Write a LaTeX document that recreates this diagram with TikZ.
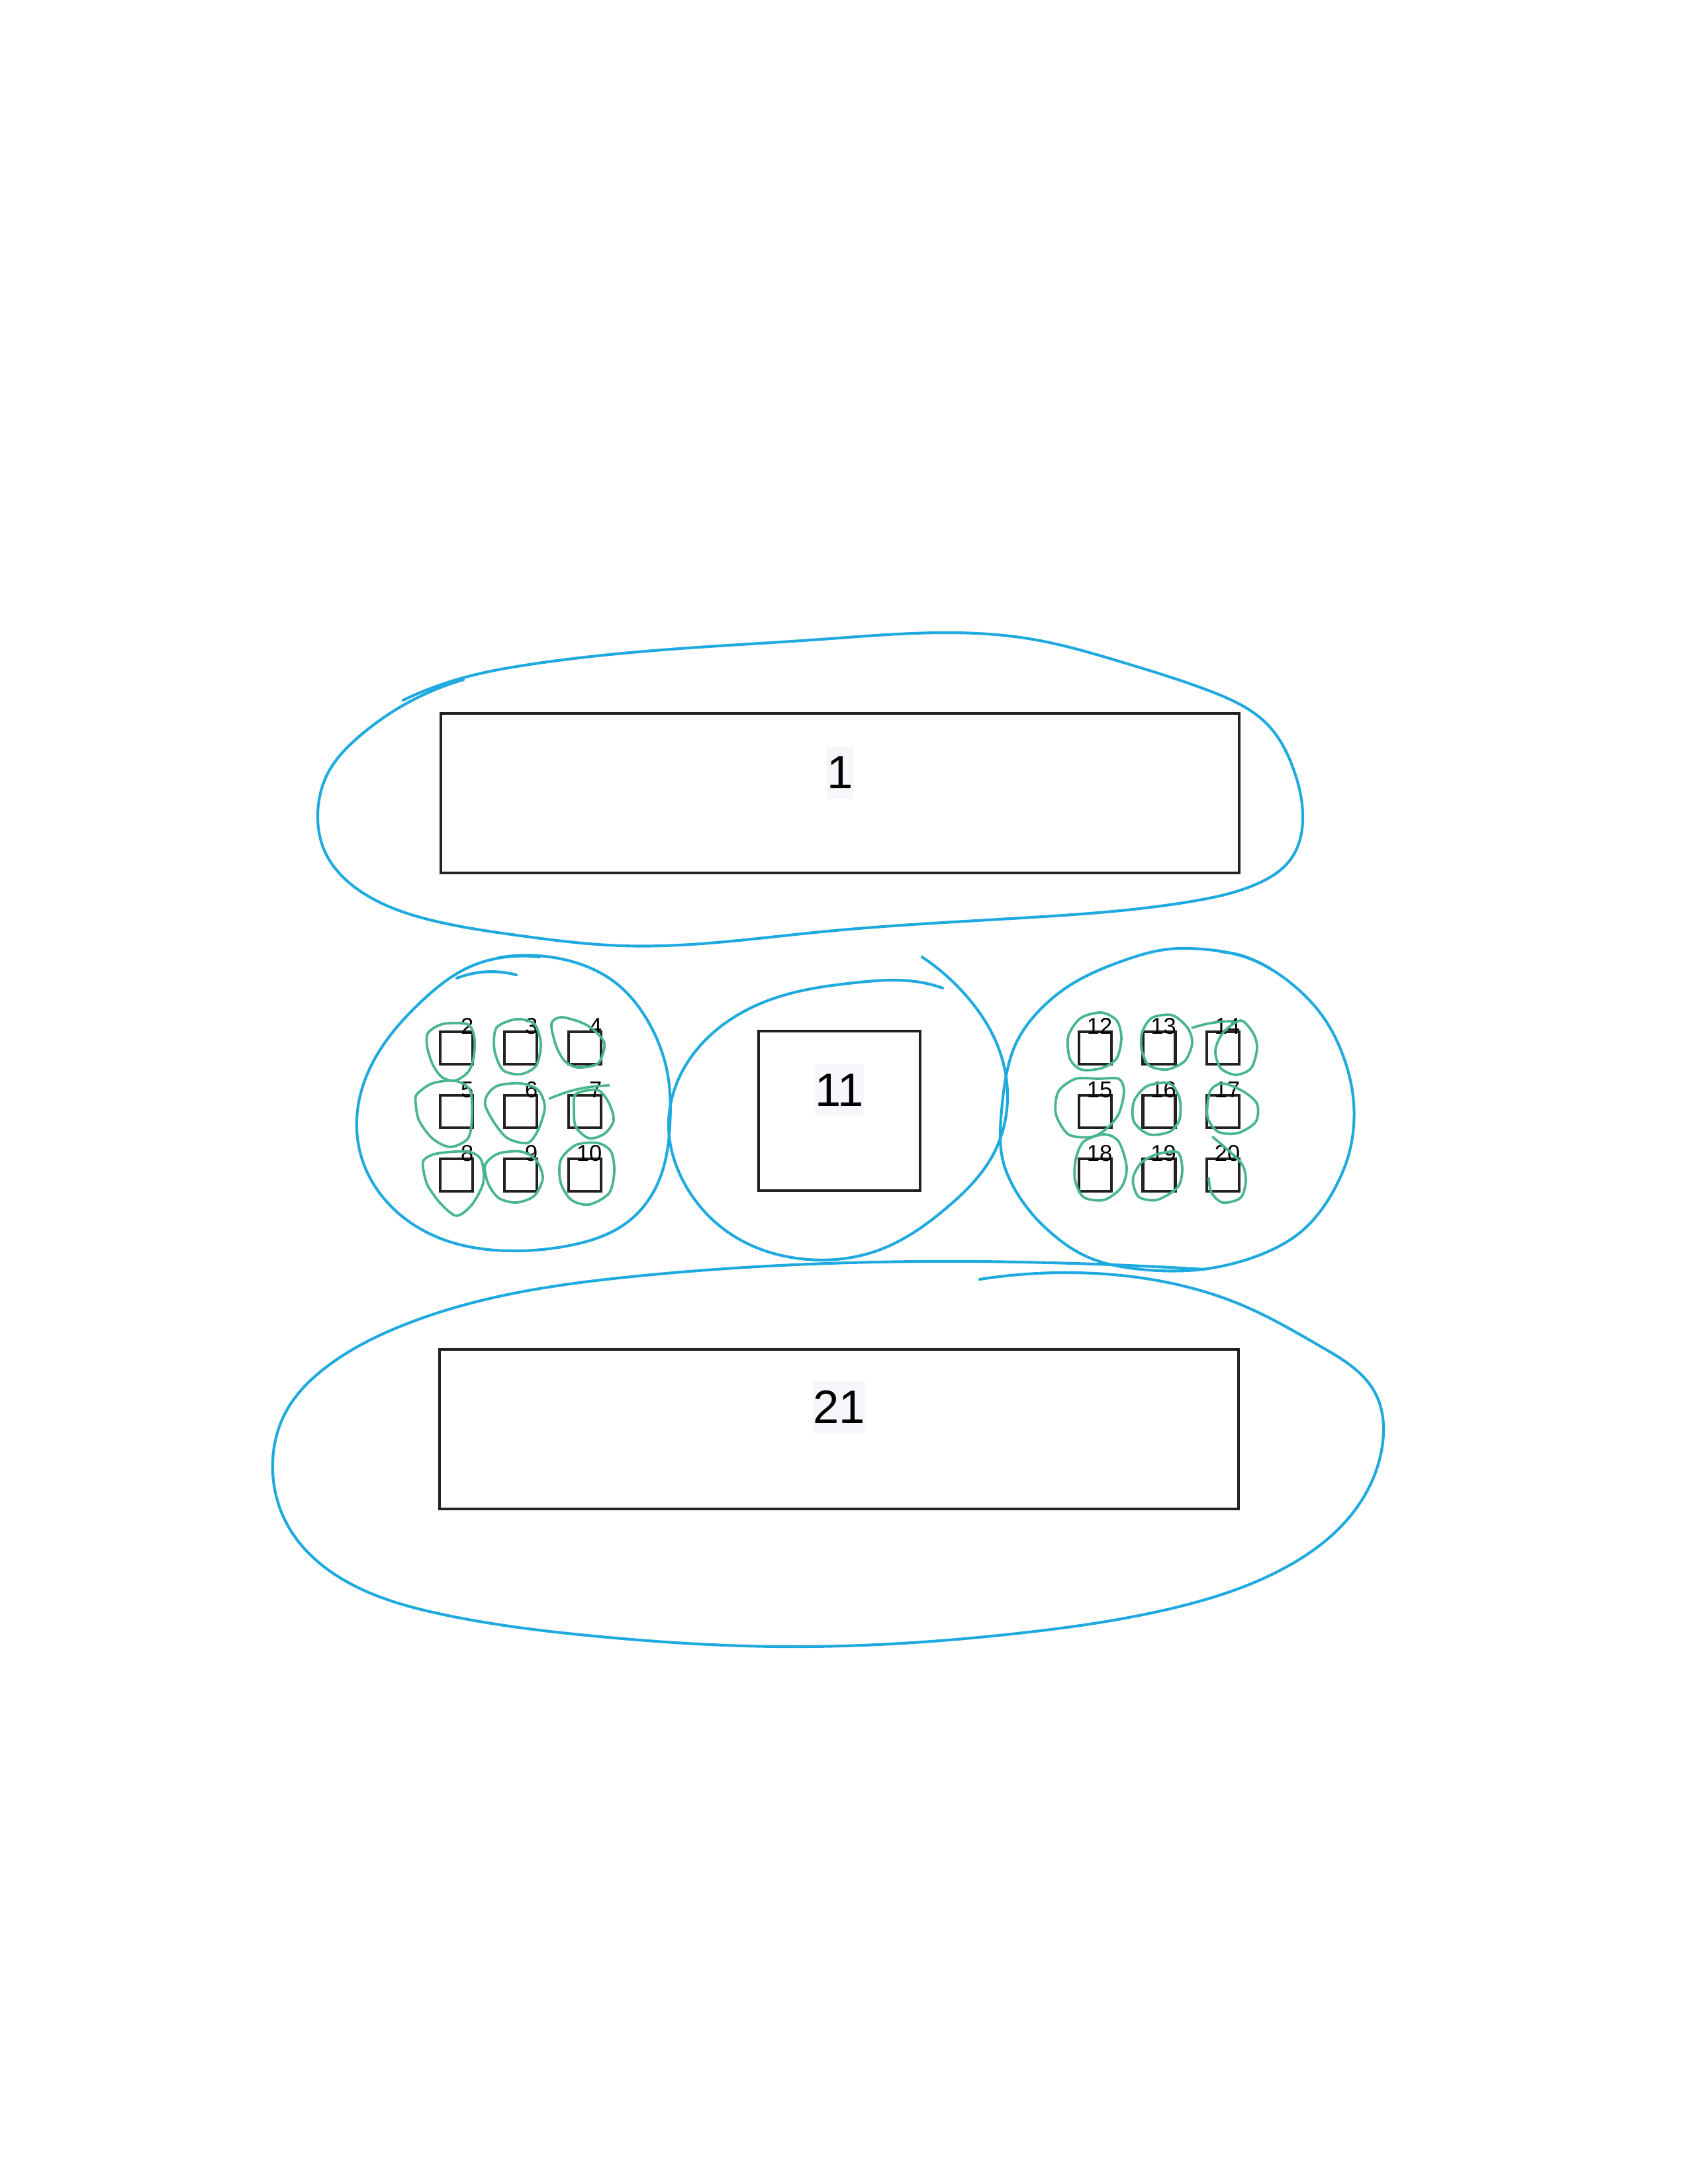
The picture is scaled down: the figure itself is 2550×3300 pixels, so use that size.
\documentclass[tikz,border=0pt]{standalone}
\usepackage{fontspec}
\setmainfont{Liberation Sans}
\usetikzlibrary{calc,positioning,hobby}

\definecolor{loopblue}{RGB}{30,170,222}
\definecolor{loopgreen}{RGB}{72,182,138}
\definecolor{boxline}{RGB}{34,34,34}
\definecolor{labelbg}{RGB}{245,247,250}

% one unit = one pixel of a 300 dpi letter page, y pointing down
\def\px{0.2409pt}

\begin{document}
\begin{tikzpicture}[x=\px, y=-\px,
  box/.style={draw=boxline, line width=1pt, inner sep=0pt},
  cell/.style={box, minimum size=49*\px},
  biglabel/.style={font=\fontsize{17}{20}\selectfont, fill=labelbg, inner xsep=0pt, inner ysep=3.6pt, anchor=base},
  celllabel/.style={font=\fontsize{8.3}{10}\selectfont, inner sep=0pt, anchor=base east},
  blueloop/.style={draw=loopblue, line width=1pt, line cap=round, line join=round, use Hobby shortcut},
  greenloop/.style={draw=loopgreen, line width=0.9pt, line cap=round, line join=round}]
  \useasboundingbox (0,0) rectangle (2550,3300);
  % column and row of the small cells
  \def\xL{689.5}
  \def\xR{1654.5}
  \def\yS{1583.5}
  % big boxes
  \node[box, minimum width=1206*\px, minimum height=241*\px] (top) at (1269,1198.5) {};
  \node[biglabel] (t1) at ($(top.north)+(0,116)$) {1};
  \node[box, minimum width=244*\px, minimum height=241*\px] (mid) at (1268,1678.5) {};
  \node[biglabel] (t11) at ($(mid.north)+(0,116)$) {11};
  \node[box, minimum width=1207*\px, minimum height=241*\px] (bot) at (1267.5,2159.5) {};
  \node[biglabel] (t21) at ($(bot.north)+(0,114)$) {21};
  % small cells, left group 2..10, right group 12..20
  \foreach \r in {0,1,2}{
    \foreach \c in {0,1,2}{
      \pgfmathtruncatemacro{\n}{2+3*\r+\c}
      \pgfmathtruncatemacro{\m}{12+3*\r+\c}
      \node[cell] (s\n) at (\xL+97*\c, \yS+96*\r) {};
      \node[celllabel] (l\n) at ($(s\n.north east)+(0,6)$) {\n};
      \node[cell] (s\m) at (\xR+96.5*\c, \yS+96*\r) {};
      \node[celllabel] (l\m) at ($(s\m.north east)+(0,6)$) {\m};
    }
  }
  % blue hand loops
  \draw[blueloop] (609,1058) .. (700,1024) .. (800,1004) .. (1000,982) .. (1240,966) .. (1440,956) .. (1560,966) .. (1700,1002) .. (1830,1045) .. (1915,1095) .. (1955,1165) .. (1968,1240) .. (1950,1298) .. (1900,1335) .. (1800,1362) .. (1560,1386) .. (1240,1408) .. (940,1429) .. (780,1413) .. (650,1390) .. (545,1347) .. (490,1285) .. (480,1230) .. (497,1165) .. (540,1115) .. (612,1064) .. (700,1027);
  \draw[blueloop] (753,1447) .. (853,1450) .. (930,1485) .. (980,1545) .. (1008,1620) .. (1012,1700) .. (997,1780) .. (950,1845) .. (860,1882) .. (770,1890) .. (670,1873) .. (590,1822) .. (545,1745) .. (542,1665) .. (575,1585) .. (640,1510) .. (705,1463) .. (775,1445) .. (815,1446);
  \draw[blueloop] (690,1478) .. (727,1469) .. (780,1473);
  \draw[blueloop] (1424,1493) .. (1395,1485) .. (1290,1485) .. (1180,1505) .. (1090,1550) .. (1030,1620) .. (1010,1700) .. (1035,1790) .. (1100,1862) .. (1210,1902) .. (1330,1888) .. (1430,1825) .. (1500,1745) .. (1522,1660) .. (1505,1575) .. (1460,1505) .. (1393,1446);
  \draw[draw=loopblue, line width=1pt] plot[smooth cycle, tension=0.6] coordinates {(1690,1454) (1786,1433) (1901,1454) (1997,1534) (2043,1649) (2031,1764) (1958,1867) (1824,1917) (1671,1909) (1576,1852) (1518,1764) (1514,1668) (1537,1572) (1600,1500)};
  \draw[blueloop] (1844,1438) .. (1885,1447) .. (1918,1463);
  \draw[blueloop] (1820,1918) .. (1623,1909) .. (1250,1909) .. (954,1929) .. (782,1953) .. (610,2002) .. (495,2064) .. (432,2133) .. (412,2207) .. (437,2309) .. (524,2390) .. (667,2439) .. (897,2472) .. (1184,2488) .. (1537,2468) .. (1767,2431) .. (1939,2370) .. (2042,2288) .. (2088,2186) .. (2077,2104) .. (1996,2035) .. (1881,1974) .. (1738,1933) .. (1623,1923) .. (1480,1933);
  % green loops round the small cells
  \draw[greenloop] plot[smooth cycle] coordinates {(647,1560) (670,1547) (707,1548) (717,1570) (715,1600) (707,1620) (687,1633) (667,1627) (653,1607) (645,1580)};
  \draw[greenloop] plot[smooth cycle] coordinates {(750,1553) (780,1540) (807,1547) (817,1577) (810,1610) (787,1623) (760,1617) (747,1587)};
  \draw[greenloop] plot[smooth cycle] coordinates {(833,1547) (847,1537) (873,1543) (893,1553) (910,1570) (913,1583) (903,1607) (873,1613) (853,1603) (840,1580)};
  \draw[greenloop] plot[smooth cycle] coordinates {(630,1653) (653,1637) (687,1633) (710,1647) (713,1687) (707,1720) (680,1733) (653,1720) (633,1693) (628,1667)};
  \draw[greenloop] plot[smooth cycle] coordinates {(737,1653) (753,1640) (787,1637) (813,1647) (823,1673) (813,1707) (797,1727) (767,1720) (747,1697) (733,1670)};
  \draw[greenloop] plot[smooth cycle] coordinates {(870,1653) (903,1647) (920,1667) (927,1693) (913,1713) (890,1720) (870,1703) (867,1677)};
  \draw[greenloop] (830,1660) to[bend left=10] (920,1640);
  \draw[greenloop] plot[smooth cycle] coordinates {(640,1753) (660,1743) (707,1740) (727,1753) (730,1787) (713,1820) (690,1837) (667,1820) (647,1793) (640,1770)};
  \draw[greenloop] plot[smooth cycle] coordinates {(733,1760) (753,1743) (787,1740) (810,1753) (820,1780) (807,1807) (780,1817) (753,1810) (737,1787)};
  \draw[greenloop] plot[smooth cycle] coordinates {(847,1753) (870,1730) (903,1727) (923,1740) (928,1770) (920,1803) (890,1820) (863,1813) (847,1787)};
  \draw[greenloop] plot[smooth cycle] coordinates {(1614,1565) (1633,1538) (1664,1530) (1687,1542) (1694,1568) (1687,1599) (1664,1614) (1633,1616) (1616,1599)};
  \draw[greenloop] plot[smooth cycle] coordinates {(1725,1561) (1740,1538) (1771,1534) (1794,1553) (1801,1576) (1790,1603) (1763,1616) (1736,1610) (1725,1588)};
  \draw[greenloop] plot[smooth cycle] coordinates {(1874,1542) (1893,1561) (1899,1584) (1890,1614) (1867,1624) (1844,1614) (1836,1588) (1847,1561)};
  \draw[greenloop] (1801,1553) to[bend left=8] (1863,1543);
  \draw[greenloop] plot[smooth cycle] coordinates {(1599,1649) (1625,1630) (1660,1630) (1690,1630) (1698,1649) (1690,1683) (1671,1706) (1648,1718) (1614,1714) (1595,1683)};
  \draw[greenloop] plot[smooth cycle] coordinates {(1713,1664) (1733,1641) (1767,1637) (1782,1660) (1782,1691) (1767,1710) (1736,1714) (1713,1695)};
  \draw[greenloop] plot[smooth cycle] coordinates {(1828,1649) (1847,1637) (1878,1649) (1899,1668) (1897,1695) (1870,1712) (1840,1710) (1824,1687)};
  \draw[greenloop] plot[smooth cycle] coordinates {(1625,1752) (1637,1725) (1668,1714) (1690,1725) (1702,1764) (1694,1794) (1668,1813) (1637,1809) (1624,1783)};
  \draw[greenloop] plot[smooth cycle] coordinates {(1713,1775) (1725,1756) (1748,1744) (1779,1741) (1786,1767) (1779,1794) (1748,1813) (1721,1809) (1712,1790)};
  \draw[greenloop] plot[smooth] coordinates {(1832,1718) (1874,1756) (1882,1783) (1874,1810) (1847,1817) (1830,1802) (1826,1780)};
\end{tikzpicture}
\end{document}
